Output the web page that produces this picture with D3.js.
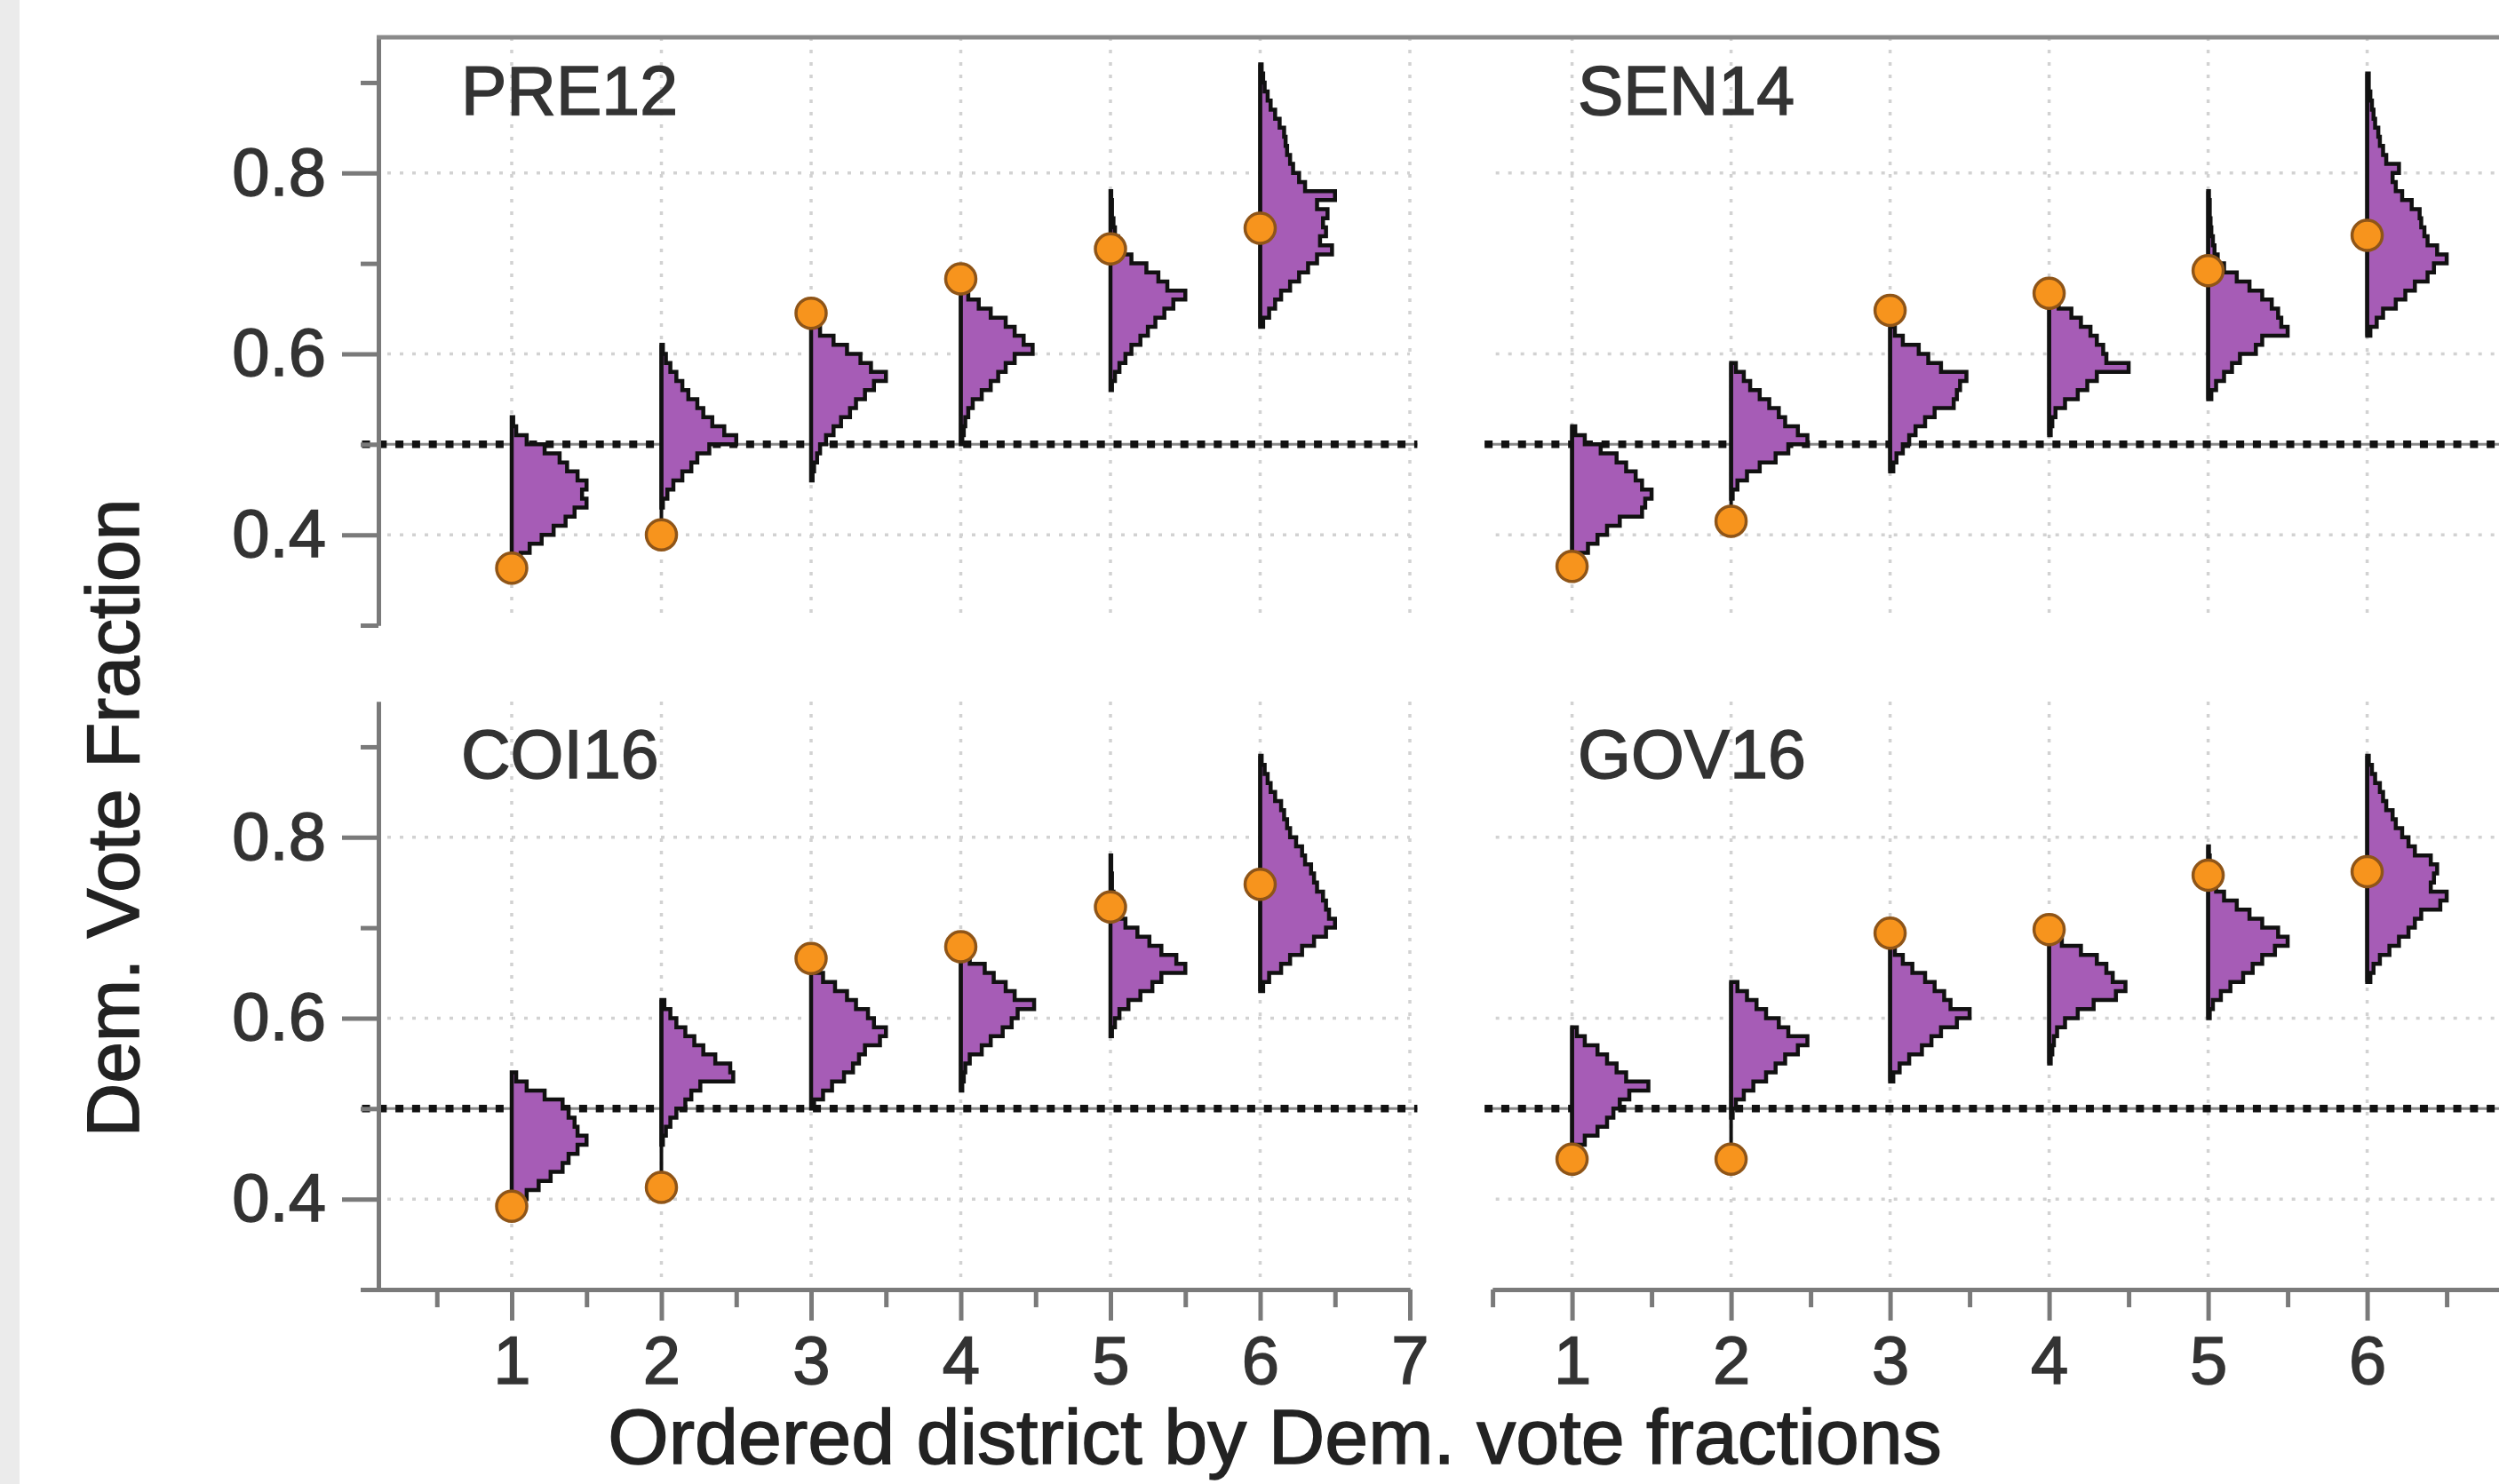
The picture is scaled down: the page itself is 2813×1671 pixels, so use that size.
<!DOCTYPE html>
<html>
<head>
<meta charset="utf-8">
<script src="https://cdn.jsdelivr.net/npm/d3@7"></script>
<style>
  body { margin: 0; background: #fff; }
  text { font-family: 'Liberation Sans', Arial, Helvetica, sans-serif; }
</style>
</head>
<body>
<script>
// ---- data ----
var panelNames = ['PRE12', 'SEN14', 'COI16', 'GOV16'];
var districts = [1, 2, 3, 4, 5, 6];
var yTicks = [0.4, 0.6, 0.8];
var yMinorTicks = [0.3, 0.5, 0.7, 0.9];
var xTicks = [1, 2, 3, 4, 5, 6, 7];
var xMinorTicks = [0.5, 1.5, 2.5, 3.5, 4.5, 5.5, 6.5];
var binWidth = 0.01;

// actual vote fraction (orange dots)
var pre12Actual = [0.363, 0.400, 0.645, 0.683, 0.716, 0.739];
var sen14Actual = [0.365, 0.415, 0.648, 0.667, 0.692, 0.731];
var coi16Actual = [0.392, 0.413, 0.666, 0.679, 0.723, 0.748];
var gov16Actual = [0.444, 0.444, 0.694, 0.698, 0.758, 0.762];

// lower edge of first histogram bin for each district
var pre12Start = [0.37, 0.43, 0.46, 0.50, 0.56, 0.63];
var sen14Start = [0.37, 0.44, 0.47, 0.51, 0.55, 0.62];
var coi16Start = [0.39, 0.46, 0.50, 0.52, 0.58, 0.63];
var gov16Start = [0.45, 0.49, 0.53, 0.55, 0.60, 0.64];

// histogram heights (in district units), one bin per 0.01
var pre12Hist = [
  [0.06, 0.12, 0.2, 0.28, 0.36, 0.42, 0.5, 0.47, 0.5, 0.44, 0.37, 0.32, 0.22, 0.1, 0.03, 0.01],
  [0.01, 0.04, 0.08, 0.14, 0.2, 0.24, 0.32, 0.5, 0.42, 0.34, 0.28, 0.24, 0.18, 0.14, 0.1, 0.06, 0.03, 0.01],
  [0.01, 0.02, 0.04, 0.06, 0.1, 0.15, 0.2, 0.26, 0.3, 0.36, 0.42, 0.5, 0.4, 0.33, 0.24, 0.15, 0.06],
  [0.01, 0.02, 0.03, 0.05, 0.08, 0.14, 0.2, 0.25, 0.3, 0.36, 0.48, 0.42, 0.36, 0.3, 0.2, 0.12, 0.05],
  [0.01, 0.03, 0.06, 0.1, 0.14, 0.2, 0.25, 0.3, 0.36, 0.42, 0.5, 0.38, 0.32, 0.24, 0.14, 0.08, 0.05, 0.03, 0.02, 0.01, 0.01, 0.005],
  [0.02, 0.06, 0.1, 0.14, 0.2, 0.26, 0.32, 0.38, 0.48, 0.4, 0.44, 0.42, 0.45, 0.38, 0.5, 0.3, 0.26, 0.22, 0.2, 0.18, 0.17, 0.16, 0.13, 0.1, 0.07, 0.05, 0.03, 0.02, 0.01]
];
var sen14Hist = [
  [0.04, 0.1, 0.16, 0.22, 0.3, 0.44, 0.46, 0.5, 0.44, 0.4, 0.34, 0.28, 0.18, 0.08, 0.02],
  [0.01, 0.04, 0.1, 0.18, 0.28, 0.36, 0.48, 0.42, 0.34, 0.3, 0.24, 0.18, 0.12, 0.08, 0.03],
  [0.02, 0.04, 0.08, 0.12, 0.16, 0.22, 0.28, 0.4, 0.42, 0.44, 0.48, 0.32, 0.24, 0.18, 0.08, 0.03],
  [0.01, 0.02, 0.04, 0.1, 0.18, 0.24, 0.3, 0.5, 0.36, 0.34, 0.3, 0.26, 0.2, 0.14, 0.06],
  [0.02, 0.05, 0.1, 0.15, 0.2, 0.3, 0.34, 0.5, 0.46, 0.44, 0.4, 0.34, 0.26, 0.18, 0.1, 0.06, 0.04, 0.03, 0.02, 0.015, 0.01, 0.01, 0.005],
  [0.02, 0.06, 0.1, 0.18, 0.24, 0.3, 0.38, 0.42, 0.5, 0.44, 0.38, 0.36, 0.34, 0.33, 0.28, 0.22, 0.18, 0.16, 0.2, 0.12, 0.1, 0.08, 0.07, 0.05, 0.04, 0.03, 0.02, 0.01, 0.01]
];
var coi16Hist = [
  [0.04, 0.1, 0.18, 0.26, 0.34, 0.38, 0.44, 0.5, 0.44, 0.42, 0.38, 0.34, 0.22, 0.1, 0.03],
  [0.01, 0.03, 0.06, 0.1, 0.16, 0.2, 0.26, 0.48, 0.46, 0.36, 0.28, 0.22, 0.16, 0.1, 0.06, 0.02],
  [0.02, 0.08, 0.14, 0.22, 0.28, 0.32, 0.36, 0.46, 0.5, 0.42, 0.38, 0.3, 0.24, 0.16, 0.08, 0.03],
  [0.01, 0.02, 0.03, 0.06, 0.14, 0.2, 0.28, 0.34, 0.38, 0.49, 0.36, 0.3, 0.22, 0.16, 0.06],
  [0.01, 0.03, 0.06, 0.12, 0.2, 0.28, 0.34, 0.5, 0.44, 0.34, 0.26, 0.18, 0.1, 0.05, 0.03, 0.02, 0.01, 0.01, 0.005, 0.005],
  [0.02, 0.06, 0.14, 0.2, 0.28, 0.36, 0.44, 0.5, 0.46, 0.44, 0.42, 0.38, 0.36, 0.34, 0.3, 0.28, 0.24, 0.2, 0.18, 0.16, 0.14, 0.1, 0.07, 0.05, 0.03, 0.01]
];
var gov16Hist = [
  [0.02, 0.08, 0.16, 0.22, 0.26, 0.3, 0.36, 0.48, 0.34, 0.28, 0.22, 0.16, 0.08, 0.03],
  [0.01, 0.03, 0.08, 0.14, 0.22, 0.28, 0.34, 0.42, 0.48, 0.36, 0.3, 0.22, 0.16, 0.1, 0.04],
  [0.02, 0.06, 0.12, 0.2, 0.26, 0.32, 0.42, 0.5, 0.38, 0.34, 0.28, 0.22, 0.14, 0.08, 0.03],
  [0.01, 0.02, 0.03, 0.05, 0.1, 0.18, 0.28, 0.42, 0.48, 0.4, 0.36, 0.3, 0.2, 0.08],
  [0.01, 0.03, 0.08, 0.14, 0.22, 0.28, 0.34, 0.42, 0.5, 0.44, 0.34, 0.26, 0.18, 0.1, 0.05, 0.03, 0.02, 0.01, 0.005],
  [0.02, 0.04, 0.08, 0.14, 0.2, 0.26, 0.3, 0.34, 0.46, 0.5, 0.4, 0.42, 0.44, 0.4, 0.3, 0.26, 0.22, 0.18, 0.16, 0.12, 0.1, 0.08, 0.05, 0.03, 0.01]
];

// ---- layout ----
var W = 2813, H = 1671;
var axisX = 426;
var fontFamily = "'Liberation Sans', Arial, sans-serif";

var xLeft = d3.scaleLinear().domain([0, 7]).range([407.5, 1587]);
var xRight = d3.scaleLinear().domain([0, 7]).range([1590.6, 2843.6]);
var yTop = d3.scaleLinear().domain([0.3, 0.95]).range([704, 42]);
var yBottom = d3.scaleLinear().domain([0.3, 0.95]).range([1452, 790]);

var panels = [
  { name: panelNames[0], x: xLeft, y: yTop, actual: pre12Actual, start: pre12Start, hist: pre12Hist, left: true, bottom: false, lx: 519, ly: 129 },
  { name: panelNames[1], x: xRight, y: yTop, actual: sen14Actual, start: sen14Start, hist: sen14Hist, left: false, bottom: false, lx: 1776, ly: 129 },
  { name: panelNames[2], x: xLeft, y: yBottom, actual: coi16Actual, start: coi16Start, hist: coi16Hist, left: true, bottom: true, lx: 519, ly: 876 },
  { name: panelNames[3], x: xRight, y: yBottom, actual: gov16Actual, start: gov16Start, hist: gov16Hist, left: false, bottom: true, lx: 1776, ly: 876 }
];

var svg = d3.select('body').append('svg')
  .attr('width', W)
  .attr('height', H);

svg.append('rect').attr('width', W).attr('height', H).attr('fill', '#fff');
// grey strip at the left edge of the screenshot
svg.append('rect').attr('width', 22).attr('height', H).attr('fill', '#ebebeb');

panels.forEach(function (p) {
  var g = svg.append('g');
  var x = p.x, y = p.y;
  var x0 = p.left ? axisX + 10 : x(0.52);
  var x1 = p.left ? x(7) : W;

  // light dotted grid
  g.selectAll('.hgrid').data(yTicks).enter().append('line')
    .attr('x1', x0).attr('x2', x1)
    .attr('y1', function (d) { return y(d); })
    .attr('y2', function (d) { return y(d); })
    .attr('stroke', '#d2d2d2').attr('stroke-width', 3.5)
    .attr('stroke-dasharray', '4,10');

  g.selectAll('.vgrid').data(xTicks).enter().append('line')
    .attr('x1', function (d) { return x(d); })
    .attr('x2', function (d) { return x(d); })
    .attr('y1', y(0.95)).attr('y2', y(0.31))
    .attr('stroke', '#d2d2d2').attr('stroke-width', 3.5)
    .attr('stroke-dasharray', '4,10');

  // 0.5 reference line
  var r0 = p.left ? x(0) : x(0.45);
  var r1 = p.left ? x(7.05) : W;
  g.append('line')
    .attr('x1', r0).attr('x2', r1)
    .attr('y1', y(0.5)).attr('y2', y(0.5))
    .attr('stroke', '#8a8a8a').attr('stroke-width', 3);
  g.append('line')
    .attr('x1', r0).attr('x2', r1)
    .attr('y1', y(0.5)).attr('y2', y(0.5))
    .attr('stroke', '#111').attr('stroke-width', 8.5)
    .attr('stroke-dasharray', '9,9.8');

  // step histograms drawn to the right of each district
  var line = d3.line()
    .x(function (d) { return x(d[0]); })
    .y(function (d) { return y(d[1]); });

  districts.forEach(function (dist, i) {
    var lo = p.start[i];
    var h = p.hist[i];
    var pts = [[dist, lo]];
    h.forEach(function (w, k) {
      pts.push([dist + w, lo + k * binWidth]);
      pts.push([dist + w, lo + (k + 1) * binWidth]);
    });
    var hi = lo + h.length * binWidth;
    pts.push([dist, hi]);

    g.append('path')
      .attr('d', line(pts) + 'Z')
      .attr('fill', '#a65cb6')
      .attr('stroke', '#111')
      .attr('stroke-width', 4.5)
      .attr('stroke-linejoin', 'miter');

    var a = p.actual[i];
    g.append('line')
      .attr('x1', x(dist)).attr('x2', x(dist))
      .attr('y1', y(Math.min(lo, a))).attr('y2', y(Math.max(hi, a)))
      .attr('stroke', '#111').attr('stroke-width', 4);
  });

  // actual results
  g.selectAll('.dot').data(p.actual).enter().append('circle')
    .attr('cx', function (d, i) { return x(districts[i]); })
    .attr('cy', function (d) { return y(d); })
    .attr('r', 17)
    .attr('fill', '#f7941d')
    .attr('stroke', '#8f5518')
    .attr('stroke-width', 3.5);

  // panel label
  g.append('text')
    .attr('x', p.lx).attr('y', p.ly)
    .attr('font-size', 77)
    .attr('fill', '#333')
    .attr('stroke', '#333').attr('stroke-width', 1.5)
    .text(p.name);

  // y axis on the left column
  if (p.left) {
    var yAxis = g.append('g')
      .attr('transform', 'translate(' + axisX + ',0)')
      .call(d3.axisLeft(y).tickValues(yTicks).tickSize(41).tickSizeOuter(0)
        .tickPadding(18).tickFormat(d3.format('.1f')));
    var yMinor = g.append('g')
      .attr('transform', 'translate(' + axisX + ',0)')
      .call(d3.axisLeft(y).tickValues(yMinorTicks).tickSize(20).tickSizeOuter(0).tickFormat(''));
    [yAxis, yMinor].forEach(function (ax) {
      ax.selectAll('path, line').attr('stroke', '#7a7a7a').attr('stroke-width', 5);
      ax.selectAll('text').attr('font-size', 76).attr('fill', '#333')
        .attr('stroke', '#333').attr('stroke-width', 1.5)
        .attr('font-family', fontFamily);
    });
  }

  // x axis on the bottom row
  if (p.bottom) {
    var xa = p.left ? x.copy() : x.copy().domain([0.5, 7]).range([x(0.5), x(7)]);
    var labels = p.left ? xTicks : xTicks.slice(0, 6);
    var xAxis = g.append('g')
      .attr('transform', 'translate(0,' + y(0.3) + ')')
      .call(d3.axisBottom(xa).tickValues(xTicks).tickSize(35).tickSizeOuter(0)
        .tickPadding(17).tickFormat(function (d) { return labels.indexOf(d) >= 0 ? d : ''; }));
    var xMinor = g.append('g')
      .attr('transform', 'translate(0,' + y(0.3) + ')')
      .call(d3.axisBottom(xa).tickValues(xMinorTicks).tickSize(20).tickSizeOuter(0).tickFormat(''));
    [xAxis, xMinor].forEach(function (ax) {
      ax.selectAll('path, line').attr('stroke', '#7a7a7a').attr('stroke-width', 5);
      ax.selectAll('text').attr('font-size', 76).attr('fill', '#333')
        .attr('stroke', '#333').attr('stroke-width', 1.5)
        .attr('font-family', fontFamily);
    });
  }
});

// top frame line
svg.append('line')
  .attr('x1', axisX - 2).attr('x2', W)
  .attr('y1', yTop(0.95)).attr('y2', yTop(0.95))
  .attr('stroke', '#8a8a8a').attr('stroke-width', 5);

// axis titles
svg.append('text')
  .attr('transform', 'translate(156,921) rotate(-90)')
  .attr('text-anchor', 'middle')
  .attr('font-size', 84)
  .attr('fill', '#222')
  .attr('stroke', '#222').attr('stroke-width', 1.5)
  .text('Dem. Vote Fraction');

svg.append('text')
  .attr('x', 1435).attr('y', 1648)
  .attr('text-anchor', 'middle')
  .attr('font-size', 88)
  .attr('fill', '#222')
  .attr('stroke', '#222').attr('stroke-width', 1.5)
  .text('Ordered district by Dem. vote fractions');
</script>
</body>
</html>
